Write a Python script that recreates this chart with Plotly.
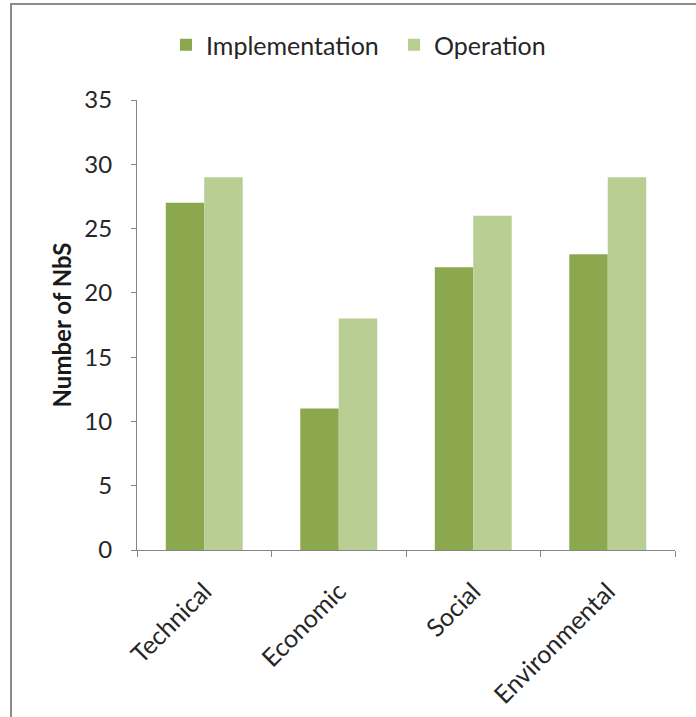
import plotly.graph_objects as go

# Categories of barriers and the number of NbS reporting each one
categories = ["Technical", "Economic", "Social", "Environmental"]
implementation = [27, 11, 22, 23]
operation = [29, 18, 26, 29]
y_ticks = [0, 5, 10, 15, 20, 25, 30, 35]

FONT = "Lato"
AXIS_GREY = "#868686"
TEXT = "#262626"

fig = go.Figure()
fig.add_trace(go.Bar(name="Implementation", x=categories, y=implementation,
                     marker=dict(color="#8BA84E", line=dict(width=0))))
fig.add_trace(go.Bar(name="Operation", x=categories, y=operation,
                     marker=dict(color="#B9CE93", line=dict(width=0))))

W, H = 696, 717
L, R, T, B = 137, 21, 100, 167
pw, ph = W - L - R, H - T - B


def px_x(px):
    return (px - L) / pw


def px_y(py):
    return (H - B - py) / ph


fig.update_layout(
    width=W, height=H,
    margin=dict(l=L, r=R, t=T, b=B, autoexpand=False),
    paper_bgcolor="white", plot_bgcolor="white",
    barmode="group", bargap=0.428, bargroupgap=0,
    font=dict(family=FONT, size=22, color=TEXT),
    legend=dict(orientation="h", x=px_x(166), xanchor="left",
                y=px_y(45), yanchor="middle",
                font=dict(family=FONT, size=25, color=TEXT),
                entrywidth=183, entrywidthmode="pixels",
                bgcolor="rgba(0,0,0,0)"),
    xaxis=dict(showline=True, linecolor=AXIS_GREY, linewidth=1,
               ticks="outside", ticklen=6, tickcolor=AXIS_GREY,
               tickson="boundaries", tickangle=-45, ticklabelstandoff=16,
               tickfont=dict(family=FONT, size=25, color=TEXT),
               showgrid=False, zeroline=False, fixedrange=True),
    yaxis=dict(range=[0, 35], tickvals=y_ticks,
               showline=True, linecolor=AXIS_GREY, linewidth=1,
               ticks="outside", ticklen=5, tickcolor=AXIS_GREY,
               ticklabelstandoff=14,
               tickfont=dict(family=FONT, size=24, color=TEXT),
               showgrid=False, zeroline=False, fixedrange=True,
               title=dict(text="<b>Number of NbS</b>", standoff=5,
                          font=dict(family=FONT, size=24, color="#1a1a1a"))),
)

# Frame around the chart area
fig.add_shape(type="rect", xref="paper", yref="paper",
              x0=px_x(11), x1=px_x(720), y0=px_y(740), y1=px_y(4),
              line=dict(color="#8c8c8c", width=2), fillcolor="rgba(0,0,0,0)",
              layer="below")

fig.write_html("out.html")
